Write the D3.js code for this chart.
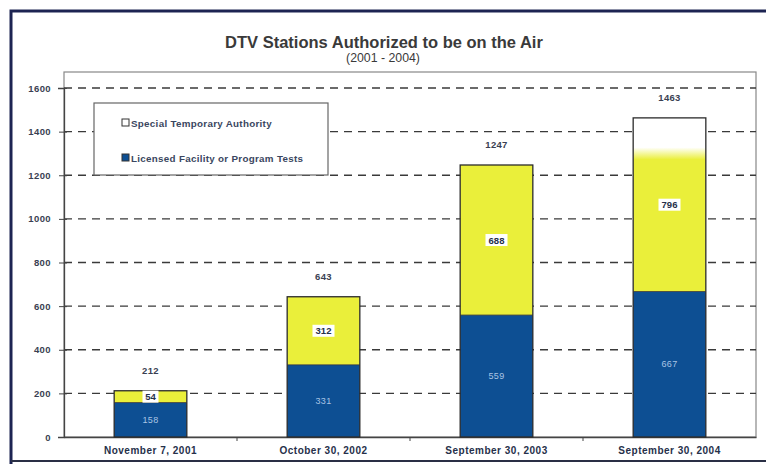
<!DOCTYPE html>
<html>
<head>
<meta charset="utf-8">
<script src="https://cdn.jsdelivr.net/npm/d3@7"></script>
<style>
  body { margin: 0; background: #fff; }
  svg { display: block; font-family: "Liberation Sans", Arial, sans-serif; }
</style>
</head>
<body>
<script>
const categories = ["November 7, 2001", "October 30, 2002", "September 30, 2003", "September 30, 2004"];
const licensed = [158, 331, 559, 667];
const sta = [54, 312, 688, 796];
const totals = [212, 643, 1247, 1463];
const yTicks = [0, 200, 400, 600, 800, 1000, 1200, 1400, 1600];
const legendLabels = ["Special Temporary Authority", "Licensed Facility or Program Tests"];

const width = 766, height = 464;
const margin = { top: 72, right: 10, bottom: 27, left: 64 };
const navy = "#0d4f93", yellow = "#eaef3a", ink = "#26304a";

const svg = d3.select("body").append("svg")
  .attr("width", width)
  .attr("height", height);

// scanned page frame
svg.append("path")
  .attr("d", `M11,${height + 5} L11,11 L${width + 5},11`)
  .attr("fill", "none").attr("stroke", "#1d2452").attr("stroke-width", 3);
svg.append("line")
  .attr("x1", 11).attr("x2", width).attr("y1", 461).attr("y2", 461)
  .attr("stroke", "#2a2f45").attr("stroke-width", 2);

svg.append("text")
  .attr("x", 384).attr("y", 48)
  .attr("text-anchor", "middle")
  .attr("font-size", 16.5).attr("font-weight", "bold").attr("fill", "#3a3a3a")
  .text("DTV Stations Authorized to be on the Air");
svg.append("text")
  .attr("x", 383).attr("y", 62)
  .attr("text-anchor", "middle")
  .attr("font-size", 12.3).attr("fill", "#3a3a3a")
  .text("(2001 - 2004)");

const x = d3.scaleBand()
  .domain(categories)
  .range([margin.left, width - margin.right])
  .paddingInner(0.58)
  .paddingOuter(0.29);

const y = d3.scaleLinear()
  .domain([0, 1600])
  .range([437, 88]);

// plot area border
svg.append("rect")
  .attr("x", margin.left).attr("y", margin.top)
  .attr("width", width - margin.right - margin.left)
  .attr("height", y(0) - margin.top)
  .attr("fill", "none").attr("stroke", "#888").attr("stroke-width", 1.2);

// dashed grid
svg.append("g")
  .selectAll("line")
  .data(yTicks.filter(d => d > 0))
  .join("line")
  .attr("x1", margin.left).attr("x2", width - margin.right)
  .attr("y1", d => y(d)).attr("y2", d => y(d))
  .attr("stroke", "#3a3a3a").attr("stroke-width", 1.3)
  .attr("stroke-dasharray", "8,6");

// y axis
const yAxis = svg.append("g")
  .attr("transform", `translate(${margin.left},0)`)
  .call(d3.axisLeft(y).tickValues(yTicks).tickSize(6).tickPadding(7).tickFormat(d3.format("d")));
yAxis.select(".domain").attr("stroke", "#444").attr("stroke-width", 1.3);
yAxis.selectAll(".tick line").attr("stroke", "#444").attr("x2", 3).attr("x1", -5);
yAxis.selectAll("text").attr("font-size", 9.5).attr("font-weight", "bold").attr("fill", "#3a3f52")
  .attr("letter-spacing", 0.4)
  .attr("font-family", "Liberation Sans, Arial, sans-serif");

// x axis
const xAxis = svg.append("g")
  .attr("transform", `translate(0,${y(0)})`)
  .call(d3.axisBottom(x).tickSize(0).tickPadding(10));
xAxis.select(".domain").attr("stroke", "#444").attr("stroke-width", 1.3);
xAxis.selectAll("text").attr("font-size", 10).attr("font-weight", "bold").attr("fill", ink)
  .attr("letter-spacing", 0.5)
  .attr("font-family", "Liberation Sans, Arial, sans-serif");
svg.append("g")
  .selectAll("line")
  .data(categories.slice(1))
  .join("line")
  .attr("x1", d => x(d) - x.step() * x.paddingInner() / 2)
  .attr("x2", d => x(d) - x.step() * x.paddingInner() / 2)
  .attr("y1", y(0)).attr("y2", y(0) + 4)
  .attr("stroke", "#444");

// faded top of the last yellow segment (scan)
const defs = svg.append("defs");
const grad = defs.append("linearGradient")
  .attr("id", "fade").attr("x1", 0).attr("x2", 0).attr("y1", 0).attr("y2", 1);
grad.append("stop").attr("offset", 0).attr("stop-color", "#fff");
grad.append("stop").attr("offset", 0.17).attr("stop-color", "#fff");
grad.append("stop").attr("offset", 0.24).attr("stop-color", yellow);
grad.append("stop").attr("offset", 1).attr("stop-color", yellow);

const bars = svg.append("g");
bars.selectAll("rect.lic")
  .data(categories)
  .join("rect")
  .attr("class", "lic")
  .attr("x", d => x(d))
  .attr("width", x.bandwidth())
  .attr("y", (d, i) => y(licensed[i]))
  .attr("height", (d, i) => y(0) - y(licensed[i]))
  .attr("fill", navy);

bars.selectAll("rect.sta")
  .data(categories)
  .join("rect")
  .attr("class", "sta")
  .attr("x", d => x(d))
  .attr("width", x.bandwidth())
  .attr("y", (d, i) => y(licensed[i] + sta[i]))
  .attr("height", (d, i) => y(licensed[i]) - y(licensed[i] + sta[i]))
  .attr("fill", (d, i) => i === categories.length - 1 ? "url(#fade)" : yellow);

bars.selectAll("rect.outline")
  .data(categories)
  .join("rect")
  .attr("class", "outline")
  .attr("x", d => x(d))
  .attr("width", x.bandwidth())
  .attr("y", (d, i) => y(totals[i]))
  .attr("height", (d, i) => y(0) - y(totals[i]))
  .attr("fill", "none").attr("stroke", "#2b2b2b").attr("stroke-width", 1.3);

bars.selectAll("line.split")
  .data(categories)
  .join("line")
  .attr("class", "split")
  .attr("x1", d => x(d)).attr("x2", d => x(d) + x.bandwidth())
  .attr("y1", (d, i) => y(licensed[i])).attr("y2", (d, i) => y(licensed[i]))
  .attr("stroke", "#333").attr("stroke-width", 0.8);

// total labels
svg.append("g")
  .selectAll("text")
  .data(categories)
  .join("text")
  .attr("x", d => x(d) + x.bandwidth() / 2)
  .attr("y", (d, i) => y(totals[i]) - 17)
  .attr("text-anchor", "middle")
  .attr("font-size", 9.5).attr("font-weight", "bold").attr("fill", "#3a3f52")
  .attr("letter-spacing", 0.3)
  .text((d, i) => totals[i]);

// yellow segment labels with white boxes
const staLab = svg.append("g")
  .selectAll("g")
  .data(categories)
  .join("g")
  .attr("transform", (d, i) => `translate(${x(d) + x.bandwidth() / 2},${y(licensed[i] + sta[i] / 2)})`);
staLab.append("rect")
  .attr("x", (d, i) => sta[i] < 100 ? -8 : -11).attr("y", -6)
  .attr("width", (d, i) => sta[i] < 100 ? 16 : 22).attr("height", 12)
  .attr("fill", "#fff");
staLab.append("text")
  .attr("y", 3.5)
  .attr("text-anchor", "middle")
  .attr("font-size", 9.5).attr("font-weight", "bold").attr("fill", ink)
  .text((d, i) => sta[i]);

// blue segment labels
svg.append("g")
  .selectAll("text")
  .data(categories)
  .join("text")
  .attr("x", d => x(d) + x.bandwidth() / 2)
  .attr("y", (d, i) => y(licensed[i] / 2) + 3)
  .attr("text-anchor", "middle")
  .attr("font-size", 9).attr("fill", "#a9c4e4").attr("letter-spacing", 0.4)
  .text((d, i) => licensed[i]);

// legend
const legend = svg.append("g");
legend.append("rect")
  .attr("x", 94).attr("y", 103).attr("width", 234).attr("height", 72)
  .attr("fill", "#fff").attr("stroke", "#666").attr("stroke-width", 1.2);
const legendFill = ["#fff", navy];
const item = legend.selectAll("g")
  .data(legendLabels)
  .join("g")
  .attr("transform", (d, i) => `translate(122,${123 + i * 35})`);
item.append("rect")
  .attr("x", 0).attr("y", -4).attr("width", 7).attr("height", 7)
  .attr("fill", (d, i) => legendFill[i]).attr("stroke", "#333").attr("stroke-width", 1);
item.append("text")
  .attr("x", 9).attr("y", 3.5)
  .attr("font-size", 9.8).attr("font-weight", "bold").attr("fill", "#3a4660")
  .attr("letter-spacing", 0.3)
  .text(d => d);
</script>
</body>
</html>
